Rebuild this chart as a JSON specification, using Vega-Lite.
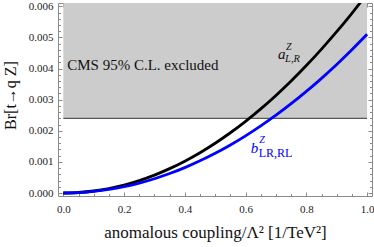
{
  "$schema": "https://vega.github.io/schema/vega-lite/v6.json",
  "width": 314,
  "height": 193,
  "autosize": {"type": "none"},
  "padding": {"left": 58, "top": 3, "right": 2, "bottom": 51},
  "config": {
    "view": {"stroke": "#8a8a8a", "strokeWidth": 1},
    "font": "Liberation Serif",
    "axis": {
      "domain": false,
      "grid": false,
      "tickColor": "#8a8a8a",
      "labelColor": "#222222",
      "labelFont": "Liberation Serif",
      "labelFontSize": 11,
      "titleFont": "Liberation Serif",
      "titleFontWeight": "normal",
      "titleColor": "#111111"
    }
  },
  "datasets": {
    "curves": [
      {"x": 0, "a": 0, "b": 0},
      {"x": 0.05, "a": 0.000016, "b": 0.0000128},
      {"x": 0.1, "a": 0.000064, "b": 0.000051},
      {"x": 0.15, "a": 0.000144, "b": 0.000115},
      {"x": 0.2, "a": 0.000256, "b": 0.000204},
      {"x": 0.25, "a": 0.0004, "b": 0.000319},
      {"x": 0.3, "a": 0.000576, "b": 0.000459},
      {"x": 0.35, "a": 0.000784, "b": 0.000625},
      {"x": 0.4, "a": 0.001024, "b": 0.000816},
      {"x": 0.45, "a": 0.001296, "b": 0.001033},
      {"x": 0.5, "a": 0.0016, "b": 0.001275},
      {"x": 0.55, "a": 0.001936, "b": 0.001543},
      {"x": 0.6, "a": 0.002304, "b": 0.001836},
      {"x": 0.65, "a": 0.002704, "b": 0.002155},
      {"x": 0.7, "a": 0.003136, "b": 0.002499},
      {"x": 0.75, "a": 0.0036, "b": 0.002869},
      {"x": 0.8, "a": 0.004096, "b": 0.003264},
      {"x": 0.85, "a": 0.004624, "b": 0.003685},
      {"x": 0.9, "a": 0.005184, "b": 0.004131},
      {"x": 0.95, "a": 0.005776, "b": 0.004603},
      {"x": 1.0, "a": 0.0064, "b": 0.0051}
    ],
    "band": [{"x0": 0, "x1": 1, "ylo": 0.0024, "yhi": 0.0063}],
    "cms": [{"lx": 0.013, "ly": 0.00395, "label": "CMS 95% C.L. excluded"}],
    "alabel": [{"lx": 0.707, "ly": 0.0043}],
    "blabel": [{"lx": 0.617, "ly": 0.00127}]
  },
  "resolve": {"axis": {"x": "independent", "y": "independent"}},
  "layer": [
    {
      "data": {"name": "band"},
      "mark": {"type": "rect", "fill": "#cccccc", "clip": true},
      "encoding": {
        "x": {"field": "x0", "type": "quantitative", "scale": {"domain": [-0.0175, 1.0162], "nice": false, "zero": false},
              "axis": {"orient": "top", "values": [0, 0.2, 0.4, 0.6, 0.8, 1.0], "labels": false, "tickSize": -4, "title": null}},
        "x2": {"field": "x1"},
        "y": {"field": "ylo", "type": "quantitative", "scale": {"domain": [-0.0000964, 0.006106], "nice": false, "zero": false},
              "axis": {"orient": "right", "values": [0, 0.001, 0.002, 0.003, 0.004, 0.005, 0.006], "labels": false, "tickSize": -4, "title": null}},
        "y2": {"field": "yhi"}
      }
    },
    {
      "data": {"name": "band"},
      "mark": {"type": "rule", "color": "#333333", "strokeWidth": 1},
      "encoding": {
        "x": {"field": "x0", "type": "quantitative", "axis": null},
        "x2": {"field": "x1"},
        "y": {"field": "ylo", "type": "quantitative", "axis": null}
      }
    },
    {
      "data": {"name": "curves"},
      "mark": {"type": "line", "color": "#000000", "strokeWidth": 2.8, "interpolate": "monotone", "clip": true},
      "encoding": {
        "x": {"field": "x", "type": "quantitative",
              "axis": {"orient": "bottom", "values": [0, 0.2, 0.4, 0.6, 0.8, 1.0], "format": ".1f", "tickSize": -4, "labelPadding": 11,
                       "title": "anomalous coupling/Λ² [1/TeV²]", "titleFontSize": 17, "titlePadding": 10}},
        "y": {"field": "a", "type": "quantitative",
              "axis": {"orient": "left", "values": [0, 0.001, 0.002, 0.003, 0.004, 0.005, 0.006], "format": ".3f", "tickSize": -4, "labelPadding": 9,
                       "title": "Br[t→q Z]", "titleFontSize": 16, "titlePadding": 10, "titleY": 92}}
      }
    },
    {
      "data": {"name": "curves"},
      "mark": {"type": "line", "color": "#0000ff", "strokeWidth": 2.8, "interpolate": "monotone", "clip": true},
      "encoding": {
        "x": {"field": "x", "type": "quantitative",
              "axis": {"orient": "bottom", "values": [0.05, 0.1, 0.15, 0.25, 0.3, 0.35, 0.45, 0.5, 0.55, 0.65, 0.7, 0.75, 0.85, 0.9, 0.95], "labels": false, "tickSize": -2.5, "title": null}},
        "y": {"field": "b", "type": "quantitative",
              "axis": {"orient": "left", "values": [0.0002, 0.0004, 0.0006, 0.0008, 0.0012, 0.0014, 0.0016, 0.0018, 0.0022, 0.0024, 0.0026, 0.0028, 0.0032, 0.0034, 0.0036, 0.0038, 0.0042, 0.0044, 0.0046, 0.0048, 0.0052, 0.0054, 0.0056, 0.0058], "labels": false, "tickSize": -2.5, "title": null}}
      }
    },
    {
      "data": {"name": "cms"},
      "mark": {"type": "text", "align": "left", "baseline": "alphabetic", "fontSize": 15, "font": "Liberation Serif", "color": "#111111"},
      "encoding": {
        "x": {"field": "lx", "type": "quantitative",
              "axis": {"orient": "top", "values": [0.05, 0.1, 0.15, 0.25, 0.3, 0.35, 0.45, 0.5, 0.55, 0.65, 0.7, 0.75, 0.85, 0.9, 0.95], "labels": false, "tickSize": -2.5, "title": null}},
        "y": {"field": "ly", "type": "quantitative",
              "axis": {"orient": "right", "values": [0.0002, 0.0004, 0.0006, 0.0008, 0.0012, 0.0014, 0.0016, 0.0018, 0.0022, 0.0024, 0.0026, 0.0028, 0.0032, 0.0034, 0.0036, 0.0038, 0.0042, 0.0044, 0.0046, 0.0048, 0.0052, 0.0054, 0.0056, 0.0058], "labels": false, "tickSize": -2.5, "title": null}},
        "text": {"field": "label"}
      }
    },
    {
      "data": {"name": "alabel"},
      "mark": {"type": "text", "align": "left", "baseline": "alphabetic", "fontSize": 15, "fontStyle": "italic", "font": "Liberation Serif", "color": "#111111"},
      "encoding": {
        "x": {"field": "lx", "type": "quantitative", "axis": null},
        "y": {"field": "ly", "type": "quantitative", "axis": null},
        "text": {"value": "a"}
      }
    },
    {
      "data": {"name": "alabel"},
      "mark": {"type": "text", "align": "left", "baseline": "alphabetic", "fontSize": 10, "fontStyle": "italic", "font": "Liberation Serif", "color": "#111111", "dx": 8, "dy": -9.5},
      "encoding": {
        "x": {"field": "lx", "type": "quantitative", "axis": null},
        "y": {"field": "ly", "type": "quantitative", "axis": null},
        "text": {"value": "Z"}
      }
    },
    {
      "data": {"name": "alabel"},
      "mark": {"type": "text", "align": "left", "baseline": "alphabetic", "fontSize": 10.5, "fontStyle": "italic", "font": "Liberation Serif", "color": "#111111", "dx": 7, "dy": 2.5},
      "encoding": {
        "x": {"field": "lx", "type": "quantitative", "axis": null},
        "y": {"field": "ly", "type": "quantitative", "axis": null},
        "text": {"value": "L,R"}
      }
    },
    {
      "data": {"name": "blabel"},
      "mark": {"type": "text", "align": "left", "baseline": "alphabetic", "fontSize": 15, "fontStyle": "italic", "font": "Liberation Serif", "color": "#0000ff"},
      "encoding": {
        "x": {"field": "lx", "type": "quantitative", "axis": null},
        "y": {"field": "ly", "type": "quantitative", "axis": null},
        "text": {"value": "b"}
      }
    },
    {
      "data": {"name": "blabel"},
      "mark": {"type": "text", "align": "left", "baseline": "alphabetic", "fontSize": 10, "fontStyle": "italic", "font": "Liberation Serif", "color": "#0000ff", "dx": 8.5, "dy": -10},
      "encoding": {
        "x": {"field": "lx", "type": "quantitative", "axis": null},
        "y": {"field": "ly", "type": "quantitative", "axis": null},
        "text": {"value": "Z"}
      }
    },
    {
      "data": {"name": "blabel"},
      "mark": {"type": "text", "align": "left", "baseline": "alphabetic", "fontSize": 12, "font": "Liberation Serif", "color": "#0000ff", "dx": 8, "dy": 3.5},
      "encoding": {
        "x": {"field": "lx", "type": "quantitative", "axis": null},
        "y": {"field": "ly", "type": "quantitative", "axis": null},
        "text": {"value": "LR,RL"}
      }
    }
  ]
}
